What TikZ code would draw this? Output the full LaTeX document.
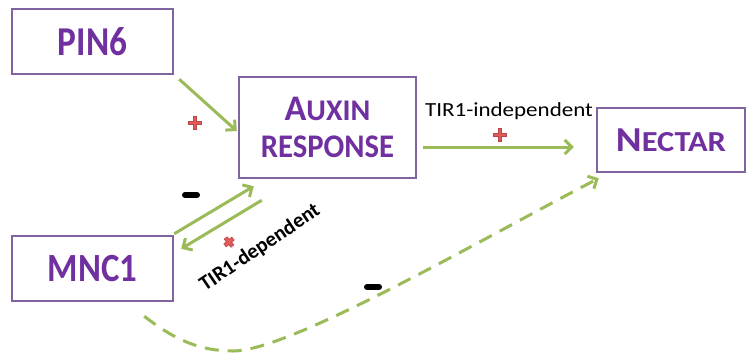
\documentclass[tikz,border=0pt]{standalone}
\usepackage{fontspec}
\usepackage{graphicx}
\setmainfont{Carlito}
\usetikzlibrary{arrows.meta,calc}
\definecolor{boxpurple}{RGB}{128,100,162}
\definecolor{txtpurple}{RGB}{112,48,160}
\definecolor{arrgreen}{RGB}{155,187,89}
\definecolor{plusred}{RGB}{228,90,90}
\begin{document}
\begin{tikzpicture}[x=1pt,y=-1pt,
  genebox/.style={draw=boxpurple,line width=2.5pt,fill=white,inner sep=0pt,
    text=txtpurple,font=\bfseries,align=center},
  conn/.style={draw=arrgreen,line width=3pt,
    -{Straight Barb[length=7pt,width=14pt,line width=3pt]}},
  dconn/.style={conn,dash pattern=on 14pt off 9pt},
  lbl/.style={font=\fontsize{20}{22}\selectfont,inner sep=0pt},
  pluspic/.pic={\draw[plusred!80!black,line width=4.4pt] (-7,0)--(7,0) (0,-7)--(0,7);
                \draw[plusred,line width=2.8pt] (-6.4,0)--(6.4,0) (0,-6.4)--(0,6.4);},
  minuspic/.pic={\draw[black,line width=6pt,line cap=round] (-6,0)--(6,0);}
]
\useasboundingbox (0,0) rectangle (747,354);
\fill[white] (0,0) rectangle (747,354);

\node[genebox,minimum width=161pt,minimum height=65pt] (pin) at (92.5,41.5)
  {\scalebox{0.86}[1]{\fontsize{41}{41}\selectfont PIN6}};
\node[genebox,minimum width=177pt,minimum height=101pt] (aux) at (327.5,127.5)
  {{\fontsize{36}{36}\selectfont A}{\fontsize{30}{30}\selectfont UXIN}\\[14pt]
   \scalebox{0.93}[1]{\fontsize{33}{33}\selectfont RESPONSE}};
\node[genebox,minimum width=148pt,minimum height=64pt] (nec) at (671,140)
  {\scalebox{1.12}[1]{{\fontsize{35}{35}\selectfont N}{\fontsize{29}{29}\selectfont ECTAR}}};
\node[genebox,minimum width=161pt,minimum height=65pt] (mnc) at (92.5,268.5)
  {\scalebox{0.87}[1]{\fontsize{40}{40}\selectfont MNC1}};

\draw[conn] ([shift={(5,4)}]pin.south east) -- ([shift={(-1,3.5)}]aux.west);
\draw[conn] ([shift={(6,19.5)}]aux.east) -- ([shift={(-22,7)}]nec.west);
\draw[conn] ([shift={(0,-1)}]mnc.north east) -- ([shift={(16,7)}]aux.south west);
\draw[conn] ([shift={(24,21)}]aux.south west) -- ([shift={(7,14)}]mnc.north east);
\coordinate (dlow) at (233,351);
\draw[dconn] ([shift={(-30,14)}]mnc.south east)
  .. controls (175,340) and (200,351) .. (dlow)
  .. controls (290,351) and (480,240) .. ([shift={(3,5)}]nec.south west);

\node[lbl] (tind) at (509,111) {\scalebox{1.15}[1]{TIR1-independent}};
\node[lbl,font=\bfseries\fontsize{21}{23}\selectfont,rotate=34] (tdep) at (260,248) {TIR1-dependent};

\pic at (195,123) {pluspic};
\pic at (500,135) {pluspic};
\pic[rotate=40,scale=0.8] at (229,242) {pluspic};
\pic at (191,195) {minuspic};
\pic at (373,287) {minuspic};
\end{tikzpicture}
\end{document}
